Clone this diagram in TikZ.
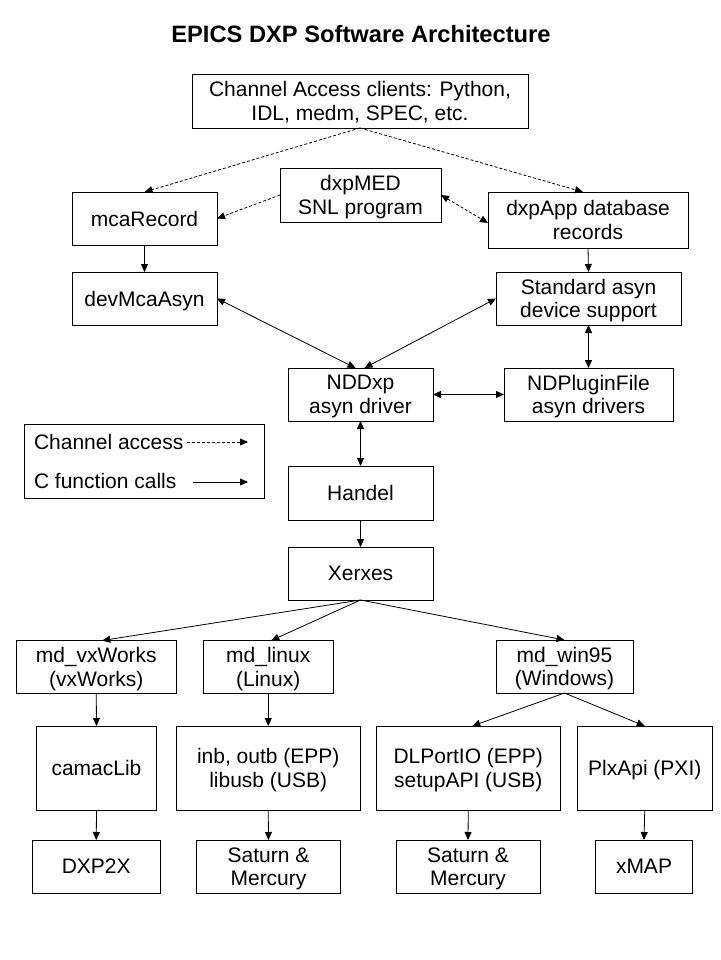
\documentclass[tikz,border=0pt]{standalone}
\usepackage{fontspec}
\setmainfont{Liberation Sans}
\usetikzlibrary{arrows.meta}
\tikzset{
  box/.style={draw=black, line width=0.9pt, inner sep=0pt, outer sep=0pt, align=center,
    text depth=0pt, font=\fontsize{21}{23.5}\selectfont},
  lbl/.style={inner sep=0pt, outer sep=0pt, anchor=base west, font=\fontsize{21}{24}\selectfont},
  conn/.style={line width=0.8pt, -{Triangle[length=8pt,width=7pt]}},
  bconn/.style={line width=0.8pt, {Triangle[length=8pt,width=7pt]}-{Triangle[length=8pt,width=7pt]}},
  ca/.style={dash pattern=on 3pt off 2pt}
}
\begin{document}
\begin{tikzpicture}[x=1pt,y=-1pt]
\path[fill=white] (0,0) rectangle (720,960);
\useasboundingbox (0,0) rectangle (720,960);
\node[inner sep=0pt, anchor=base, font=\fontsize{23.7}{26}\selectfont\bfseries] (title) at (361,43) {EPICS DXP Software Architecture};
% boxes
\node[box, minimum width=336pt, minimum height=54pt] (ca) at (360,101) {Channel Access clients: Python,\\IDL, medm, SPEC, etc.};
\node[box, minimum width=145pt, minimum height=53pt] (mca) at (144.5,218.5) {mcaRecord};
\node[box, minimum width=161pt, minimum height=54pt] (med) at (360.5,195) {dxpMED\\SNL program};
\node[box, minimum width=200pt, minimum height=56pt] (app) at (588,220) {dxpApp database\\records};
\node[box, minimum width=145pt, minimum height=53pt] (devmca) at (144.5,298.5) {devMcaAsyn};
\node[box, minimum width=185pt, minimum height=53pt] (std) at (588.5,298.5) {Standard asyn\\device support};
\node[box, minimum width=145pt, minimum height=53pt] (nddxp) at (360.5,394.5) {NDDxp\\asyn driver};
\node[box, minimum width=169pt, minimum height=53pt] (plug) at (588.5,394.5) {NDPluginFile\\asyn drivers};
\node[box, minimum width=145pt, minimum height=54pt] (handel) at (360.5,493) {Handel};
\node[box, minimum width=145pt, minimum height=53pt] (xerxes) at (360.5,573.5) {Xerxes};
\node[box, minimum width=240pt, minimum height=74pt] (legend) at (144,461) {};
\node[box, minimum width=159.5pt, minimum height=52.5pt] (mdvx) at (96.25,666.75) {md\_vxWorks\\(vxWorks)};
\node[box, minimum width=129.5pt, minimum height=52.5pt] (mdlin) at (268.25,666.75) {md\_linux\\(Linux)};
\node[box, minimum width=137pt, minimum height=53pt] (mdwin) at (564.5,666.5) {md\_win95\\(Windows)};
\node[box, minimum width=120pt, minimum height=84pt] (camac) at (96.5,768) {camacLib};
\node[box, minimum width=184.5pt, minimum height=84pt] (inb) at (268.25,768) {inb, outb (EPP)\\libusb (USB)};
\node[box, minimum width=184.5pt, minimum height=84pt] (dlp) at (468.25,768) {DLPortIO (EPP)\\setupAPI (USB)};
\node[box, minimum width=135.5pt, minimum height=84pt] (plx) at (644.75,768) {PlxApi (PXI)};
\node[box, minimum width=128.5pt, minimum height=53pt] (dxp2x) at (96.25,866.5) {DXP2X};
\node[box, minimum width=144pt, minimum height=53pt] (sat1) at (268.5,866.5) {Saturn \&\\Mercury};
\node[box, minimum width=144pt, minimum height=53pt] (sat2) at (468,866.5) {Saturn \&\\Mercury};
\node[box, minimum width=97pt, minimum height=53pt] (xmap) at (644,866.5) {xMAP};
% legend
\node[lbl] (lca) at (34,449) {Channel access};
\node[lbl] (lcf) at (34,488) {C function calls};
\coordinate (lca1) at (187,442);
\coordinate (lca2) at (248,442);
\coordinate (lcf1) at (193,482);
\coordinate (lcf2) at (248,482);
\draw[conn, ca] (lca1) -- (lca2);
\draw[conn] (lcf1) -- (lcf2);
% channel access connectors
\draw[conn, ca] (ca.south) -- (mca.north);
\draw[conn, ca] (ca.south) -- ([xshift=-5pt]app.north);
\draw[conn, ca] (med.west) -- (mca.east);
\draw[bconn, ca] (med.east) -- ([yshift=-3pt]app.west);
% C function calls
\draw[conn] (mca.south) -- (devmca.north);
\draw[conn] (app.south) -- (std.north);
\draw[bconn] (devmca.east) -- ([xshift=-5pt]nddxp.north);
\draw[bconn] (std.west) -- ([xshift=4pt]nddxp.north);
\draw[bconn] (std.south) -- (plug.north);
\draw[bconn] (nddxp.east) -- (plug.west);
\draw[bconn] (nddxp.south) -- (handel.north);
\draw[conn] (handel.south) -- (xerxes.north);
\draw[conn] (xerxes.south) -- ([xshift=6pt]mdvx.north);
\draw[conn] (xerxes.south) -- ([xshift=3pt]mdlin.north);
\draw[conn] (xerxes.south) -- (mdwin.north);
\draw[conn] (mdvx.south) -- (camac.north);
\draw[conn] (mdlin.south) -- (inb.north);
\draw[conn] (mdwin.south) -- ([xshift=4pt]dlp.north);
\draw[conn] (mdwin.south) -- (plx.north);
\draw[conn] (camac.south) -- (dxp2x.north);
\draw[conn] (inb.south) -- (sat1.north);
\draw[conn] (dlp.south) -- (sat2.north);
\draw[conn] (plx.south) -- (xmap.north);
\end{tikzpicture}
\end{document}
